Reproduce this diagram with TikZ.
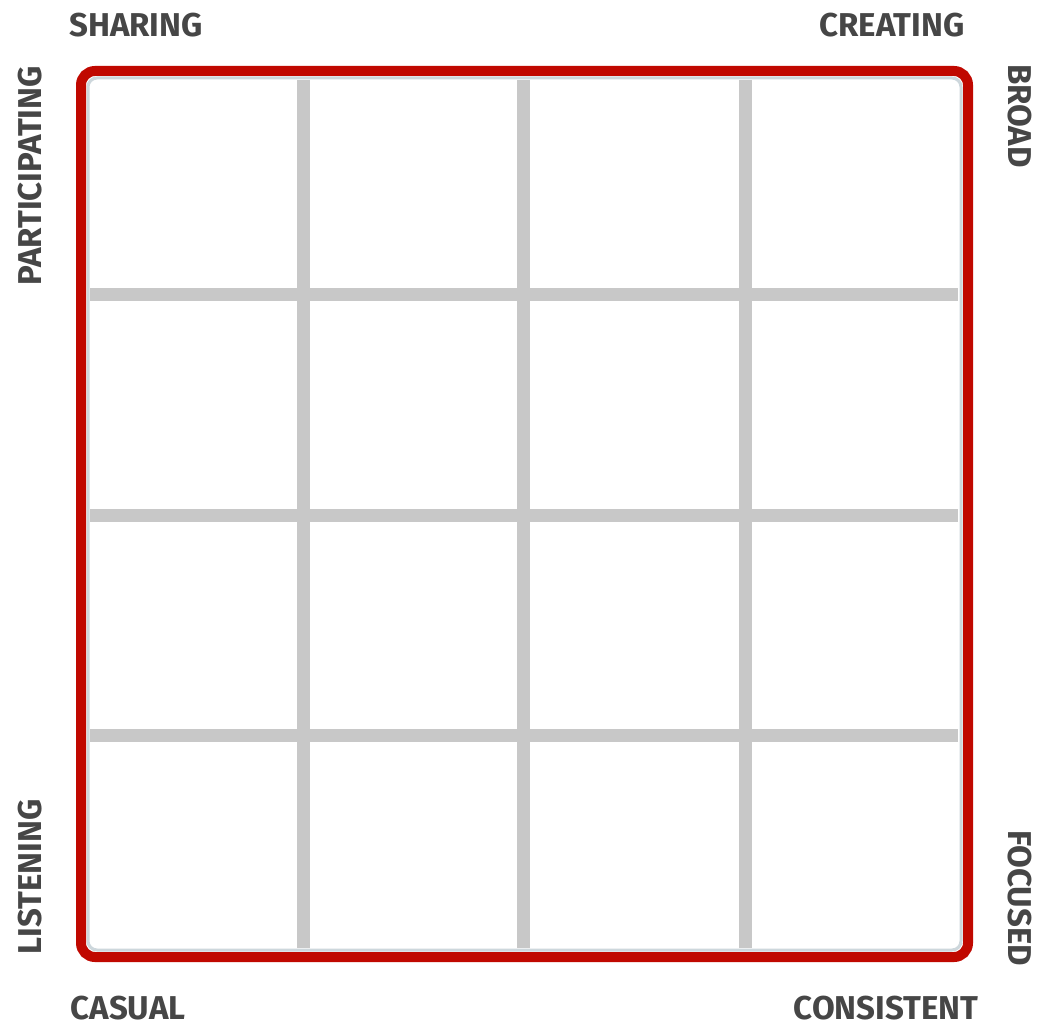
\documentclass[tikz,border=0pt]{standalone}
\usepackage{fontspec}
\setmainfont{Fira Sans}
\definecolor{frame}{RGB}{192,8,0}
\definecolor{gridgray}{RGB}{200,200,200}
\definecolor{innerline}{RGB}{205,215,220}
\definecolor{lbl}{RGB}{70,70,70}
\begin{document}
\begin{tikzpicture}[x=1pt,y=-1pt,
  axislabel/.style={text=lbl,font=\fontsize{33}{33}\selectfont\bfseries,inner sep=0pt,anchor=center},
  gridline/.style={draw=gridgray,line width=13pt}]
\useasboundingbox[fill=white] (0,0) rectangle (1041,1027);
% inner thin border
\draw[innerline,line width=3pt,rounded corners=9pt] (88,78) rectangle (961,950);
% grid
\foreach \x in {303,523,745} \draw[gridline] (\x,80) -- (\x,948);
\foreach \y in {294,515,735} \draw[gridline] (90,\y) -- (958,\y);
% red frame
\draw[frame,line width=10pt,rounded corners=14pt] (81,71) rectangle (968,957);
% labels
\node[axislabel] (sharing) at (136,25) {SHARING};
\node[axislabel] (creating) at (892,25) {CREATING};
\node[axislabel] (casual) at (128,1008) {CASUAL};
\node[axislabel] (consistent) at (886,1008) {CONSISTENT};
\node[axislabel,rotate=90] (participating) at (30,176) {PARTICIPATING};
\node[axislabel,rotate=90] (listening) at (30,877) {LISTENING};
\node[axislabel,rotate=-90] (broad) at (1020,116) {BROAD};
\node[axislabel,rotate=-90] (focused) at (1020,898) {FOCUSED};
\end{tikzpicture}
\end{document}
